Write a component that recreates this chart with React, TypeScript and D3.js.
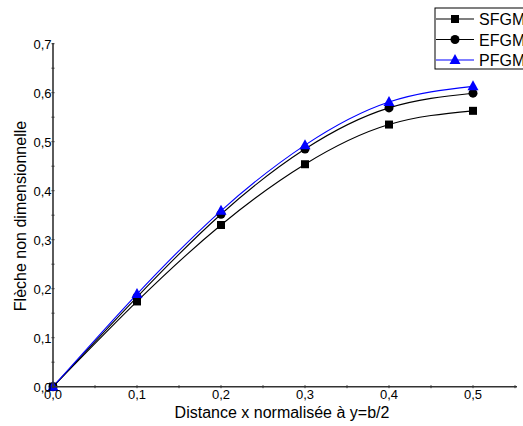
import React from "react";
import * as d3 from "d3";

const xValues = [0, 0.1, 0.2, 0.3, 0.4, 0.5];
const sfgm = [0, 0.174, 0.33, 0.454, 0.535, 0.563];
const efgm = [0, 0.183, 0.352, 0.485, 0.569, 0.599];
const pfgm = [0, 0.189, 0.359, 0.493, 0.581, 0.613];
const seriesNames = ["SFGM", "EFGM", "PFGM"];
const seriesColors = ["#000000", "#000000", "#0000ff"];
const xTicks = [0, 0.1, 0.2, 0.3, 0.4, 0.5];
const yTicks = [0, 0.1, 0.2, 0.3, 0.4, 0.5, 0.6, 0.7];

const W = 523;
const H = 426;
const x0 = 53;
const y0 = 386.7;
const x = d3.scaleLinear().domain([0, 0.5]).range([x0, 473]);
const y = d3.scaleLinear().domain([0, 0.7]).range([y0, 43.7]);
const fmt = (v: number) => v.toFixed(1).replace(".", ",");
const font = "Arial, 'Liberation Sans', sans-serif";

function Marker({ kind, cx, cy, color }: { kind: number; cx: number; cy: number; color: string }) {
  if (kind === 0) return <rect x={cx - 4} y={cy - 4} width={8} height={8} fill={color} />;
  if (kind === 1) return <circle cx={cx} cy={cy} r={4.5} fill={color} />;
  return <path d={`M${cx},${cy - 6}L${cx + 5.5},${cy + 4}L${cx - 5.5},${cy + 4}Z`} fill={color} />;
}

export default function App() {
  const all = [sfgm, efgm, pfgm];
  const line = d3
    .line<number>()
    .x((_, i) => x(xValues[i]))
    .y((d) => y(d))
    .curve(d3.curveNatural);
  const minorY = d3.range(0, 0.701, 0.05);
  const minorX = d3.range(0, 0.551, 0.05);
  return (
    <svg width={W} height={H} style={{ position: "absolute", left: 0, top: 0 }} fontFamily={font}>
      <rect width={W} height={H} fill="#fff" />
      {all.map((s, k) => (
        <path key={k} d={line(s) || ""} fill="none" stroke={seriesColors[k]} strokeWidth={1.1} />
      ))}
      {all.map((s, k) =>
        s.map((v, i) => <Marker key={`${k}-${i}`} kind={k} cx={x(xValues[i])} cy={y(v)} color={seriesColors[k]} />)
      )}
      {/* axes */}
      <line x1={x0} x2={x0} y1={43} y2={y0 + 1} stroke="#333" strokeWidth={1.6} />
      <line x1={x0 - 1} x2={517} y1={y0} y2={y0} stroke="#333" strokeWidth={1.6} />
      {minorY.map((v, i) => (
        <line key={"my" + i} x1={x0 - 1.5} x2={x0 + 1.5} y1={y(v)} y2={y(v)} stroke="#333" strokeWidth={1} />
      ))}
      {minorX.map((v, i) => (
        <line key={"mx" + i} x1={x(v)} x2={x(v)} y1={y0 - 1.5} y2={y0 + 1.5} stroke="#333" strokeWidth={1} />
      ))}
      {yTicks.map((v) => (
        <text key={"yt" + v} x={x0 - 1.5} y={y(v) + 5} textAnchor="end" fontSize={13}>
          {fmt(v)}
        </text>
      ))}
      {xTicks.map((v) => (
        <text key={"xt" + v} x={x(v)} y={y0 + 12.5} textAnchor="middle" fontSize={13}>
          {fmt(v)}
        </text>
      ))}
      <text x={282} y={418} textAnchor="middle" fontSize={16}>
        Distance x normalisée à y=b/2
      </text>
      <text transform="translate(26,216) rotate(-90)" textAnchor="middle" fontSize={16}>
        Flèche non dimensionnelle
      </text>
      {/* legend */}
      <rect x={435} y={8} width={100} height={61} fill="#fff" stroke="#000" strokeWidth={1} />
      {seriesNames.map((n, k) => {
        const ly = 19 + k * 20.5;
        return (
          <g key={n}>
            <line x1={436} x2={474} y1={ly} y2={ly} stroke={seriesColors[k]} strokeWidth={1.1} />
            <Marker kind={k} cx={455} cy={ly} color={seriesColors[k]} />
            <text x={479} y={ly + 6} fontSize={16}>
              {n}
            </text>
          </g>
        );
      })}
    </svg>
  );
}
